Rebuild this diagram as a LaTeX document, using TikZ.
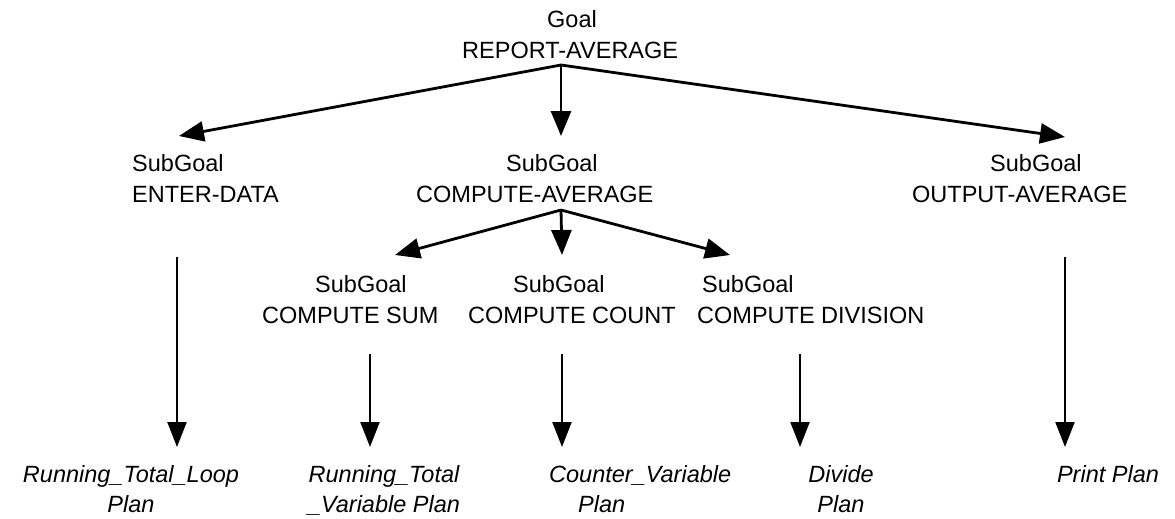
\documentclass[tikz,border=0pt]{standalone}
\usepackage{fontspec}
\setmainfont{Liberation Sans}
\usetikzlibrary{arrows.meta}
\tikzset{
  lbl/.style={inner sep=0pt, font=\fontsize{23.5}{31}\selectfont},
  lblL/.style={lbl, align=left, anchor=north west},
  lblC/.style={lbl, align=center, anchor=north, font=\fontsize{23.5}{30}\selectfont\itshape},
  arr/.style={-{Triangle[length=25pt,width=20pt]}, line width=2.8pt},
  varr/.style={-{Triangle[length=25pt,width=19pt]}, line width=2.2pt}
}
\begin{document}
\begin{tikzpicture}[x=1pt,y=-1pt]
\fill[white] (0,0) rectangle (1175,519);
\useasboundingbox (0,0) rectangle (1175,519);

% text blocks
\node[lblL] (goal) at (462,10.5) {\hspace*{85pt}Goal\\REPORT-AVERAGE};
\node[lblL] (enter) at (132,154.5) {SubGoal\\ENTER-DATA};
\node[lblL] (cavg) at (416,154.5) {\hspace*{90pt}SubGoal\\COMPUTE-AVERAGE};
\node[lblL] (out) at (912,154.5) {\hspace*{78pt}SubGoal\\OUTPUT-AVERAGE};
\node[lblL] (sum) at (262,275) {\hspace*{53pt}SubGoal\\COMPUTE SUM};
\node[lblL] (count) at (468,275) {\hspace*{45pt}SubGoal\\COMPUTE COUNT};
\node[lblL] (div) at (697,275) {\hspace*{5pt}SubGoal\\COMPUTE DIVISION};

\node[lblC] (rtl) at (131,465.5) {Running\_Total\_Loop\\Plan};
\node[lblC] (rtv) at (384,465.5) {Running\_Total\\\_Variable Plan};
\node[lblC, align=left, anchor=north west] (cnt) at (549,465.5) {Counter\_Variable\\\hspace*{29pt}Plan};
\node[lblC] (dvp) at (841,465.5) {Divide\\Plan};
\node[lblC] (prp) at (1108,465.5) {Print Plan};

% junctions
\coordinate (gj) at (561,65);
\coordinate (cj) at (561,210);

% level 1
\draw[arr] (gj) -- ([xshift=47pt,yshift=18.5pt]enter.north west);
\draw[arr] (gj) -- ([xshift=145pt,yshift=18.5pt]cavg.north west);
\draw[arr] (gj) -- ([xshift=153pt,yshift=17.5pt]out.north west);

% level 2
\draw[arr] (cj) -- ([xshift=133pt,yshift=20pt]sum.north west);
\draw[arr] (cj) -- ([xshift=94pt,yshift=20pt]count.north west);
\draw[arr] (cj) -- ([xshift=33pt,yshift=20pt]div.north west);

% plans
\draw[varr] ([xshift=45pt,yshift=-54pt]enter.south west) -- ([xshift=46pt,yshift=18.5pt]rtl.north);
\draw[varr] ([xshift=108pt,yshift=-30pt]sum.south west) -- ([xshift=-14pt,yshift=18.5pt]rtv.north);
\draw[varr] ([xshift=94pt,yshift=-30pt]count.south west) -- ([xshift=13pt,yshift=18.5pt]cnt.north west);
\draw[varr] ([xshift=103pt,yshift=-30pt]div.south west) -- ([xshift=-41pt,yshift=18.5pt]dvp.north);
\draw[varr] ([xshift=153pt,yshift=-54pt]out.south west) -- ([xshift=-43pt,yshift=18.5pt]prp.north);
\end{tikzpicture}
\end{document}
